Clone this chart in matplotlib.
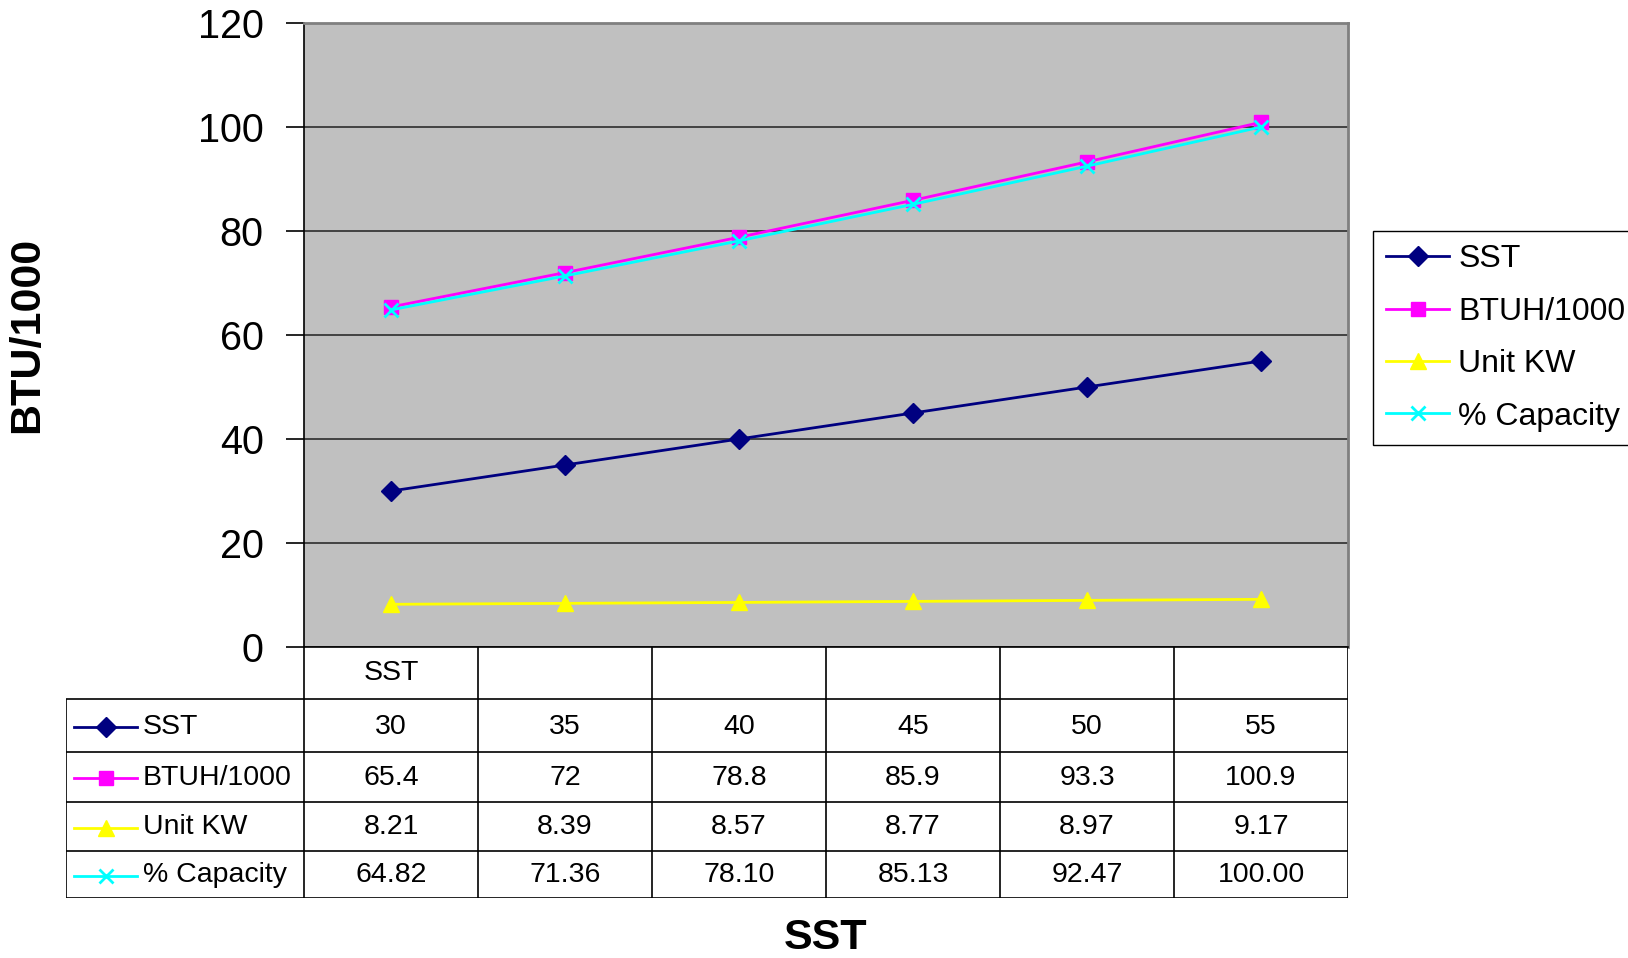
import matplotlib
matplotlib.use("Agg")
import matplotlib.pyplot as plt

plt.rcParams['font.family'] = ['Liberation Sans', 'DejaVu Sans']

# ---- data ----
categories = ["SST", "", "", "", "", ""]
series_names = ["SST", "BTUH/1000", "Unit KW", "% Capacity"]
sst = [30, 35, 40, 45, 50, 55]
btuh = [65.4, 72, 78.8, 85.9, 93.3, 100.9]
unit_kw = [8.21, 8.39, 8.57, 8.77, 8.97, 9.17]
capacity = [64.82, 71.36, 78.10, 85.13, 92.47, 100.00]
table_text = [
    ["30", "35", "40", "45", "50", "55"],
    ["65.4", "72", "78.8", "85.9", "93.3", "100.9"],
    ["8.21", "8.39", "8.57", "8.77", "8.97", "9.17"],
    ["64.82", "71.36", "78.10", "85.13", "92.47", "100.00"],
]
y_ticks = [0, 20, 40, 60, 80, 100, 120]

styles = [
    dict(color="#000080", marker="D", markersize=10, lw=2),
    dict(color="#FF00FF", marker="s", markersize=9.5, lw=2),
    dict(color="#FFFF00", marker="^", markersize=11.5, lw=2),
    dict(color="#00FFFF", marker="x", markersize=10, lw=2, markeredgewidth=2),
]

W, H = 1628, 958
fig = plt.figure(figsize=(W / 100, H / 100), dpi=100)

# plot area in pixels
px_l, px_r, px_t, px_b = 304, 1348, 23, 647
ax = fig.add_axes([px_l / W, 1 - px_b / H, (px_r - px_l) / W, (px_b - px_t) / H])
ax.set_facecolor("#C0C0C0")
x = list(range(len(categories)))
values = [sst, btuh, unit_kw, capacity]
handles = []
for name, vals, st in zip(series_names, values, styles):
    ln, = ax.plot(x, vals, label=name, clip_on=False, zorder=3, **st)
    handles.append(ln)

ax.set_xlim(-0.5, len(categories) - 0.5)
ax.set_ylim(0, 120)
ax.set_yticks(y_ticks)
ax.tick_params(axis="y", direction="out", length=13, width=1.2, pad=16,
               labelsize=28.5, colors="black")
ax.set_xticks([])
ax.grid(axis="y", color="#383838", lw=1.3, zorder=1)
ax.set_axisbelow(True)
for side in ("top", "right"):
    ax.spines[side].set_color("#808080")
    ax.spines[side].set_linewidth(2)
for side in ("left", "bottom"):
    ax.spines[side].set_color("black")
    ax.spines[side].set_linewidth(1.2)

fig.text(27 / W, 1 - (px_t + px_b) / 2 / H, "BTU/1000", fontsize=31,
         fontweight="bold", rotation=90, ha="center", va="center")
fig.text((px_l + px_r) / 2 / W, 1 - 938 / H, "SST", fontsize=31,
         fontweight="bold", ha="center", va="center")

# ---- data table under the plot ----
tb_l, tb_b = 66, 898
row_edges = [647, 699, 752, 802, 851, 898]
unit = (px_r - px_l) / len(categories)
left_x = -0.5 - (px_l - tb_l) / unit
tax = fig.add_axes([tb_l / W, 1 - tb_b / H, (px_r - tb_l) / W, (tb_b - px_b) / H])
tax.set_xlim(left_x, len(categories) - 0.5)
tax.set_ylim(tb_b, px_b)
tax.axis("off")
lc = dict(color="black", lw=1.2, solid_capstyle="butt")
n = len(categories)
fs_tab = 20.5
# header row
hy = (row_edges[0] + row_edges[1]) / 2
for i, c in enumerate(categories):
    tax.text(i, hy, c, ha="center", va="center", fontsize=fs_tab)
for i in range(n + 1):
    tax.plot([i - 0.5, i - 0.5], [row_edges[0], row_edges[-1]], **lc)
for r in row_edges[1:]:
    tax.plot([left_x, n - 0.5], [r, r], **lc)
tax.plot([left_x, left_x], [row_edges[1], row_edges[-1]], **lc)
# series rows
for r, (name, st, row) in enumerate(zip(series_names, styles, table_text)):
    yc = (row_edges[r + 1] + row_edges[r + 2]) / 2 + 1
    kx0 = left_x + 8 / unit
    kx1 = left_x + 71 / unit
    tax.plot([kx0, kx1], [yc, yc], color=st["color"], lw=2)
    mst = dict(st)
    mst.pop("lw")
    tax.plot([(kx0 + kx1) / 2], [yc], linestyle="none", **mst)
    tax.text(left_x + 77 / unit, yc, name, ha="left", va="center", fontsize=fs_tab)
    for i, s in enumerate(row):
        tax.text(i, yc, s, ha="center", va="center", fontsize=fs_tab)

# ---- legend ----
leg = fig.legend(handles=handles, loc="upper left",
                 bbox_to_anchor=(1373 / W, 1 - 231 / H), borderaxespad=0,
                 fontsize=23, frameon=True, fancybox=False, framealpha=1,
                 edgecolor="black", handlelength=1.95, handletextpad=0.3,
                 labelspacing=0.7, borderpad=0.42, numpoints=1)
leg.get_frame().set_linewidth(1.0)

fig.savefig("out.png", dpi=100, facecolor="white")
